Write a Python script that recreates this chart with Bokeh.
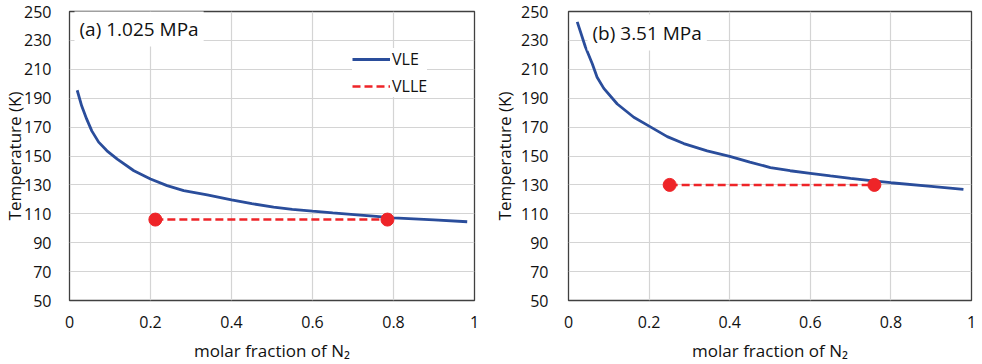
from bokeh.plotting import figure
from bokeh.layouts import row
from bokeh.models import Label, Legend, LegendItem, FixedTicker, Range1d
from bokeh.embed import file_html
from bokeh.resources import INLINE

# (a) 1.025 MPa
vle_a_x = [0.019, 0.03, 0.0425, 0.055, 0.072, 0.0925, 0.118, 0.159, 0.2, 0.241, 0.282, 0.34,
           0.4, 0.45, 0.504, 0.55, 0.6, 0.65, 0.71, 0.75, 0.8, 0.9, 0.982]
vle_a_t = [195.5, 184.7, 175.5, 167.4, 159.6, 153.6, 147.8, 139.8, 134.1, 129.5, 126.1, 123.1,
           119.7, 117, 114.6, 113.1, 111.8, 110.6, 109.3, 108.4, 107.2, 105.8, 104.5]
vlle_a_x = [0.212, 0.785]
vlle_a_t = [106, 106]

# (b) 3.51 MPa
vle_b_x = [0.0217, 0.042, 0.059, 0.071, 0.0876, 0.121, 0.162, 0.2, 0.245, 0.286, 0.344, 0.4,
           0.45, 0.501, 0.55, 0.6, 0.65, 0.7, 0.75, 0.8, 0.9, 0.98]
vle_b_t = [242.8, 225.4, 213.8, 204.5, 196.8, 186, 176.8, 170.7, 163.4, 158.6, 153.5, 149.8,
           145.8, 142, 139.8, 138, 136.2, 134.5, 133, 131.5, 129, 126.9]
vlle_b_x = [0.251, 0.759]
vlle_b_t = [130, 130]

x_ticks = [0, 0.2, 0.4, 0.6, 0.8, 1.0]
y_ticks = [50, 70, 90, 110, 130, 150, 170, 190, 210, 230, 250]
x_tick_labels = {0: "0", 0.2: "0.2", 0.4: "0.4", 0.6: "0.6", 0.8: "0.8", 1.0: "1"}
x_title = "molar fraction of N\u2082"
y_title = "Temperature (K)"

FONT = "Open Sans"
BLUE = "#2a4d9b"
RED = "#ee2428"
TXT = "#111111"


def make_panel(vx, vt, lx, lt, title, title_xy, border_left, border_right, width,
               y_stand, y_lab_stand, with_legend):
    p = figure(width=width, height=364, output_backend="svg", toolbar_location=None,
               x_range=Range1d(0, 1), y_range=Range1d(50, 250),
               min_border_left=border_left, min_border_top=11, min_border_bottom=10,
               min_border_right=border_right)
    p.background_fill_color = "white"
    p.border_fill_color = "white"
    p.outline_line_color = "#404040"
    p.outline_line_width = 1.3
    for ax in (p.xaxis[0], p.yaxis[0]):
        ax.axis_line_color = None
        ax.major_tick_line_color = None
        ax.minor_tick_line_color = None
        ax.major_label_text_font = FONT
        ax.major_label_text_font_size = "16px"
        ax.major_label_text_color = TXT
        ax.axis_label_text_font = FONT
        ax.axis_label_text_font_size = "17px"
        ax.axis_label_text_font_style = "normal"
        ax.axis_label_text_color = TXT
    p.xaxis.ticker = FixedTicker(ticks=x_ticks)
    p.xaxis.major_label_overrides = x_tick_labels
    p.yaxis.ticker = FixedTicker(ticks=y_ticks)
    p.xaxis.major_label_standoff = 9
    p.yaxis.major_label_standoff = y_stand
    p.xaxis.axis_label = x_title
    p.xaxis.axis_label_standoff = 8
    p.yaxis.axis_label = y_title
    p.yaxis.axis_label_standoff = y_lab_stand
    p.xgrid.grid_line_color = "#d4d4d4"
    p.ygrid.grid_line_color = "#d4d4d4"
    p.xgrid.grid_line_width = 1.2
    p.ygrid.grid_line_width = 1.2

    r_vle = p.line(vx, vt, line_color=BLUE, line_width=2.8)
    r_vlle = p.line(lx, lt, line_color=RED, line_width=2.5, line_dash="8 4")
    p.scatter(lx, lt, size=13, fill_color=RED, line_color=RED)

    lab = Label(x=title_xy[0], y=title_xy[1], x_units="screen", y_units="screen", text=title,
                text_font=FONT, text_font_size="19px", text_color=TXT,
                text_baseline="middle",
                background_fill_color="white", background_fill_alpha=1.0,
                border_line_color=None)
    lab.padding = 5
    p.add_layout(lab)

    if with_legend:
        leg = Legend(items=[LegendItem(label="VLE", renderers=[r_vle]),
                            LegendItem(label="VLLE", renderers=[r_vlle])],
                     location=(283, 203))
        leg.label_text_font = FONT
        leg.label_text_font_size = "16px"
        leg.label_text_color = TXT
        leg.glyph_width = 38
        leg.glyph_height = 20
        leg.label_height = 20
        leg.spacing = 5
        leg.padding = 6
        leg.margin = 0
        leg.label_standoff = 2
        leg.border_line_color = None
        leg.background_fill_color = "white"
        leg.background_fill_alpha = 1.0
        p.add_layout(leg, "center")
    return p


pa = make_panel(vle_a_x, vle_a_t, vlle_a_x, vlle_a_t, "(a) 1.025 MPa", (5, 272), 69, 16, 490,
                12, -5, True)
pb = make_panel(vle_b_x, vle_b_t, vlle_b_x, vlle_b_t, "(b) 3.51 MPa", (19, 268), 78, 11, 492,
                14, 2, False)

layout = row(pa, pb, spacing=0)
open("out.html", "w").write(file_html(layout, INLINE))
